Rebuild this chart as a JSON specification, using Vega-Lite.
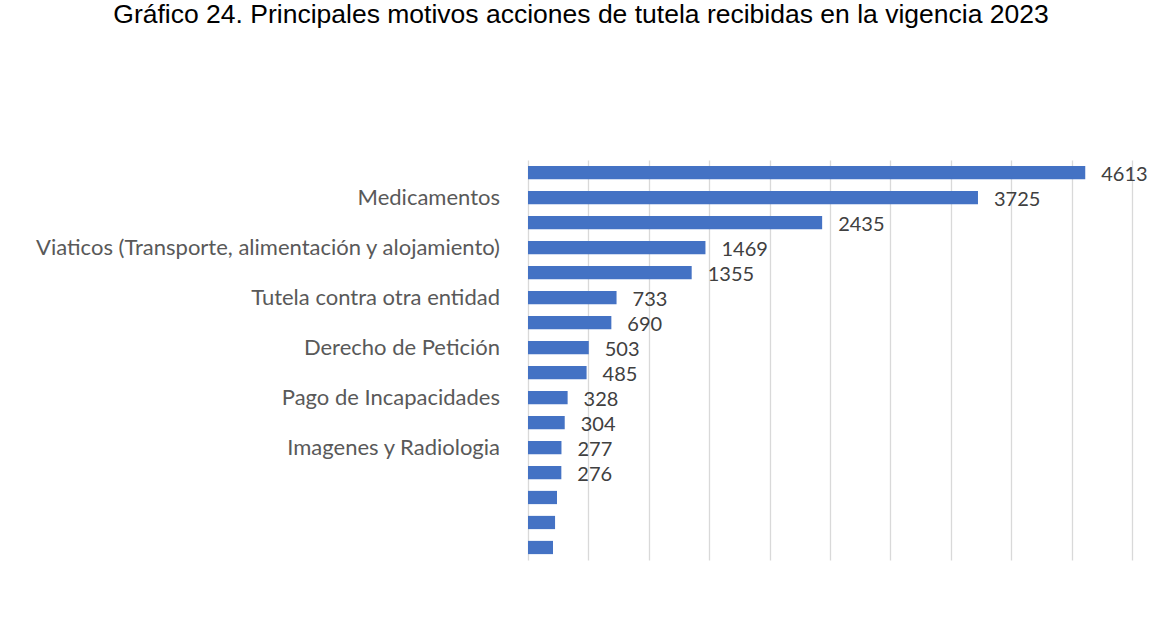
{
  "$schema": "https://vega.github.io/schema/vega-lite/v6.json",
  "autosize": "none",
  "width": 604,
  "height": 400,
  "padding": {"left": 528, "top": 160, "right": 40, "bottom": 60},
  "background": "white",
  "title": {
    "text": "Gráfico 24. Principales motivos acciones de tutela recibidas en la vigencia 2023",
    "font": "Liberation Sans",
    "fontSize": 26.5,
    "fontWeight": "normal",
    "color": "#000000",
    "anchor": "middle",
    "frame": "group",
    "dx": -249,
    "offset": 132
  },
  "data": {
    "values": [
      {"orden": 1, "motivo": "", "cantidad": 4613},
      {"orden": 2, "motivo": "Medicamentos", "cantidad": 3725},
      {"orden": 3, "motivo": "", "cantidad": 2435},
      {"orden": 4, "motivo": "Viaticos (Transporte, alimentación y alojamiento)", "cantidad": 1469},
      {"orden": 5, "motivo": "", "cantidad": 1355},
      {"orden": 6, "motivo": "Tutela contra otra entidad", "cantidad": 733},
      {"orden": 7, "motivo": "", "cantidad": 690},
      {"orden": 8, "motivo": "Derecho de Petición", "cantidad": 503},
      {"orden": 9, "motivo": "", "cantidad": 485},
      {"orden": 10, "motivo": "Pago de Incapacidades", "cantidad": 328},
      {"orden": 11, "motivo": "", "cantidad": 304},
      {"orden": 12, "motivo": "Imagenes y Radiologia", "cantidad": 277},
      {"orden": 13, "motivo": "", "cantidad": 276},
      {"orden": 14, "motivo": "", "cantidad": 240},
      {"orden": 15, "motivo": "", "cantidad": 224},
      {"orden": 16, "motivo": "", "cantidad": 207}
    ]
  },
  "encoding": {
    "y": {
      "field": "orden",
      "type": "ordinal",
      "scale": {"paddingInner": 0.47, "paddingOuter": 0.235},
      "axis": null
    }
  },
  "layer": [
    {
      "mark": {"type": "bar", "color": "#4472C4"},
      "encoding": {
        "x": {
          "field": "cantidad",
          "type": "quantitative",
          "scale": {"domain": [0, 5000], "nice": false},
          "axis": {
            "values": [0, 500, 1000, 1500, 2000, 2500, 3000, 3500, 4000, 4500, 5000],
            "grid": true,
            "gridColor": "#d9d9d9",
            "gridWidth": 1.3,
            "labels": false,
            "ticks": false,
            "domain": false,
            "title": null
          }
        }
      }
    },
    {
      "transform": [{"filter": "datum.orden <= 13"}],
      "mark": {"type": "text", "align": "left", "baseline": "middle", "dx": 16, "dy": 2, "font": "Lato", "fontSize": 20, "color": "#404040"},
      "encoding": {
        "x": {"field": "cantidad", "type": "quantitative"},
        "text": {"field": "cantidad", "type": "quantitative", "format": "d"}
      }
    },
    {
      "mark": {"type": "text", "align": "right", "baseline": "middle", "dx": -28, "font": "Lato", "fontSize": 22, "color": "#595959"},
      "encoding": {
        "x": {"datum": 0, "type": "quantitative"},
        "text": {"field": "motivo", "type": "nominal"}
      }
    }
  ],
  "config": {"view": {"stroke": null}}
}
